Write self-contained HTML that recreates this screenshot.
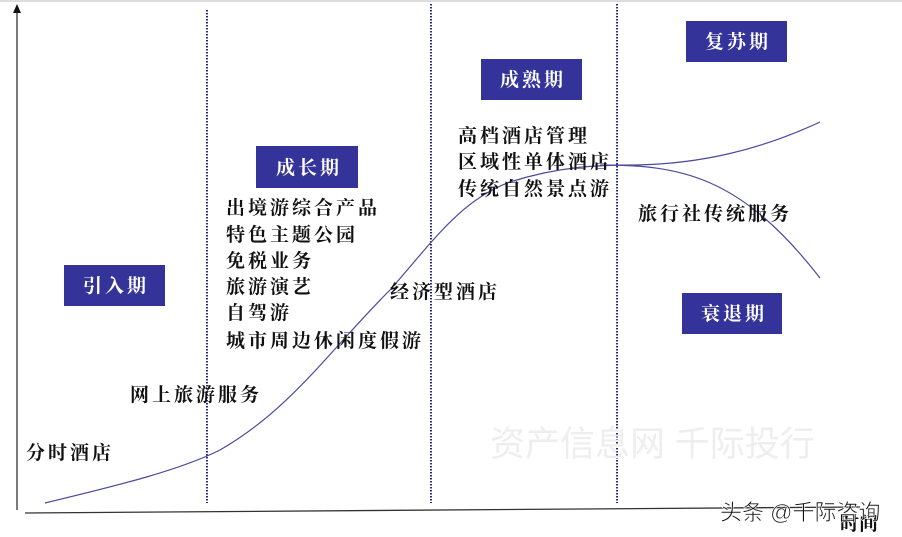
<!DOCTYPE html>
<html><head><meta charset="utf-8"><style>
body{margin:0;background:#fff;}
svg{display:block}
.t{font-family:"Liberation Serif","Noto Serif CJK SC",serif;font-size:19px;fill:#111;font-weight:bold;letter-spacing:3px}
.b{font-family:"Liberation Serif","Noto Serif CJK SC",serif;font-size:19px;fill:#fff;font-weight:bold;letter-spacing:3px}
</style></head><body>
<svg width="902" height="537" viewBox="0 0 902 537">
<line x1="0" y1="1" x2="902" y2="1" stroke="#ddd" stroke-width="2"/>
<line x1="17" y1="12" x2="17" y2="510" stroke="#333" stroke-width="1.3"/>
<polygon points="17,4 13,13 21,13" fill="#111"/>
<line x1="25" y1="513" x2="860" y2="507" stroke="#333" stroke-width="1.3"/>
<g stroke="#2a2a80" stroke-width="2" stroke-dasharray="1.5,1.5">
<line x1="207" y1="10" x2="207" y2="503"/>
<line x1="431" y1="4" x2="431" y2="503"/>
<line x1="617" y1="4" x2="617" y2="503"/>
</g>
<path d="M45,503 C120,485 180,470 220,450 C290,410 330,350 390,290 C430,245 460,200 510,182 C560,166 600,165 635,165 C700,164 760,150 820,122" fill="none" stroke="#4a4aa0" stroke-width="1.2"/>
<path d="M600,165 C680,165 740,175 820,278" fill="none" stroke="#4a4aa0" stroke-width="1.2"/>
<g fill="#333399">
<rect x="64" y="265" width="101" height="41"/>
<rect x="256" y="146" width="102" height="42"/>
<rect x="481" y="59" width="101" height="41"/>
<rect x="686" y="21" width="101" height="41"/>
<rect x="682" y="293" width="100" height="41"/>
</g>
<text class="b" x="116" y="292" text-anchor="middle">引入期</text>
<text class="b" x="309" y="174" text-anchor="middle">成长期</text>
<text class="b" x="533" y="86" text-anchor="middle">成熟期</text>
<text class="b" x="738" y="48" text-anchor="middle">复苏期</text>
<text class="b" x="734" y="320" text-anchor="middle">衰退期</text>
<text class="t" x="226" y="214">出境游综合产品</text>
<text class="t" x="226" y="241">特色主题公园</text>
<text class="t" x="226" y="267">免税业务</text>
<text class="t" x="226" y="293">旅游演艺</text>
<text class="t" x="226" y="319">自驾游</text>
<text class="t" x="226" y="347">城市周边休闲度假游</text>
<text class="t" x="130" y="401">网上旅游服务</text>
<text class="t" x="26" y="459">分时酒店</text>
<text class="t" x="390" y="298">经济型酒店</text>
<text class="t" x="458" y="142">高档酒店管理</text>
<text class="t" x="458" y="168">区域性单体酒店</text>
<text class="t" x="458" y="195">传统自然景点游</text>
<text class="t" x="638" y="220">旅行社传统服务</text>
<text x="490" y="456" font-family="Liberation Sans,Noto Sans CJK SC,sans-serif" font-size="35" fill="#eee">资产信息网 千际投行</text>
<text x="840" y="530" font-family="Liberation Serif,Noto Serif CJK SC,serif" font-size="19" font-weight="bold" fill="#111">时间</text>
<text x="720" y="520" font-family="Liberation Sans,Noto Sans CJK SC,sans-serif" font-size="22" fill="#111" stroke="#fff" stroke-width="0.6">头条 @千际咨询</text>
</svg>
</body></html>
